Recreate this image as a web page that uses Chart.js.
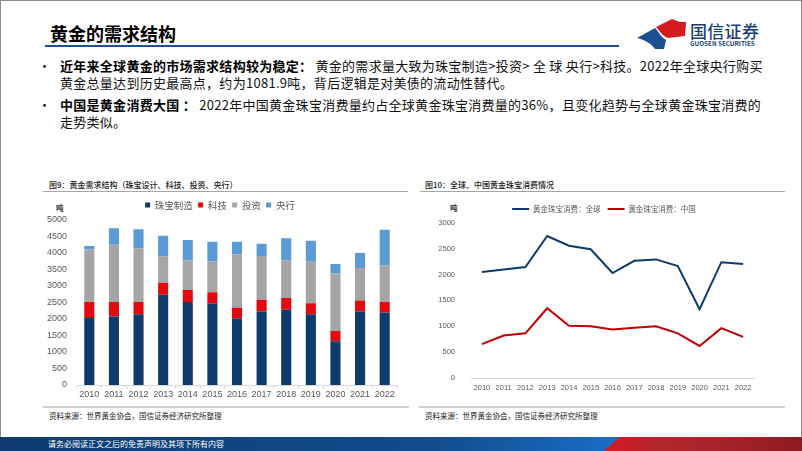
<!DOCTYPE html>
<html><head><meta charset="utf-8">
<script src="https://cdn.jsdelivr.net/npm/chart.js@4.4.1/dist/chart.umd.min.js"></script>
<style>
html,body{margin:0;padding:0;background:#fff;}
body{width:802px;height:451px;position:relative;overflow:hidden;font-family:"Noto Sans CJK SC","Noto Sans",sans-serif;color:#111;}
.frame{position:absolute;left:0;top:0;width:800px;height:449px;border:1px solid #8c8c8c;}
.abs{position:absolute;white-space:nowrap;}
.title{left:50px;top:21px;font-size:18px;font-weight:700;line-height:24px;color:#000;}
.tline{left:45px;top:45px;width:574px;height:2px;background:#1d4f91;}
.txt{font-size:13px;line-height:17px;color:#111;letter-spacing:0.28px;}
.txt b{font-weight:700;color:#000;}
.dot{font-size:13px;line-height:17px;}
.cap{font-size:8px;line-height:10px;font-weight:500;color:#222;}
.hl{height:1px;background:#a6a6a6;}
.bl{height:2px;background:#cfcfcf;}
.src{font-size:7.5px;line-height:10px;color:#222;}
.unit{font-size:7.5px;font-weight:700;color:#333;line-height:10px;}
canvas{position:absolute;}
.footer{left:0;top:437px;width:802px;height:14px;background:linear-gradient(90deg,#0d3b70 0%,#124d8f 55%,#1a6cc4 76%,#1a6cc4 78%);}
.red{left:592px;top:437px;width:210px;height:14px;background:linear-gradient(90deg,#e3141c 0%,#b3262d 30%,#a5242a 60%,#8e1c21 100%);clip-path:polygon(28px 0,210px 0,210px 14px,12px 14px);}
.ftxt{left:48px;top:438px;font-size:8px;line-height:12px;color:#fff;}
</style></head>
<body>
<div class="frame"></div>
<div class="abs title">黄金的需求结构</div>
<div class="abs tline"></div>
<svg class="abs" style="left:630px;top:14px" width="62" height="40" viewBox="630 14 62 40">
  <path d="M656,27 L672,19 L680,22 L686,22 L685,36 L668,38 C662,36 660,31 656,27 Z" fill="#d71920"/>
  <path d="M637,38 L655,28 C659,32 661,37 666,40 L664,49 L655,49 C652,44 645,40 637,38 Z" fill="#1d4f91"/>
</svg>
<div class="abs" style="left:690px;top:20px;font-size:17px;line-height:22px;color:#1c3f74;font-weight:500;letter-spacing:0.3px;">国信证券</div>
<div class="abs" style="left:690px;top:40px;font-size:6.3px;line-height:8px;color:#1c3f74;font-weight:700;">GUOSEN SECURITIES</div>

<div class="abs dot" style="left:38px;top:57px;">•</div>
<div class="abs txt" style="left:60px;top:57px;"><b>近年来全球黄金的市场需求结构较为稳定：</b> 黄金的需求量大致为珠宝制造&gt;投资&gt; 全 球 央行&gt;科技。2022年全球央行购买</div>
<div class="abs txt" style="left:60px;top:74px;">黄金总量达到历史最高点，约为1081.9吨，背后逻辑是对美债的流动性替代。</div>
<div class="abs dot" style="left:38px;top:96px;">•</div>
<div class="abs txt" style="left:60px;top:96px;"><b>中国是黄金消费大国 ：</b> 2022年中国黄金珠宝消费量约占全球黄金珠宝消费量的36%，且变化趋势与全球黄金珠宝消费的</div>
<div class="abs txt" style="left:60px;top:113px;">走势类似。</div>

<div class="abs cap" style="left:49px;top:180px;">图9：黄金需求结构（珠宝设计、科技、投资、央行）</div>
<div class="abs hl" style="left:43px;top:191px;width:365px;"></div>
<div class="abs cap" style="left:425px;top:180px;">图10：全球、中国黄金珠宝消费情况</div>
<div class="abs hl" style="left:420px;top:191px;width:365px;"></div>

<div class="abs unit" style="left:56px;top:203px;">吨</div>
<div class="abs unit" style="left:450px;top:203px;">吨</div>

<canvas id="c1" width="365" height="205" style="left:43px;top:195px;width:365px;height:205px;"></canvas>
<canvas id="c2" width="368" height="196" style="left:420px;top:198px;width:368px;height:196px;"></canvas>

<div class="abs bl" style="left:43px;top:406px;width:366px;"></div>
<div class="abs bl" style="left:419px;top:406px;width:366px;"></div>
<div class="abs src" style="left:49px;top:411px;">资料来源：世界黄金协会，国信证券经济研究所整理</div>
<div class="abs src" style="left:425px;top:411px;">资料来源：世界黄金协会，国信证券经济研究所整理</div>

<div class="abs footer"></div>
<div class="abs red"></div>
<div class="abs ftxt">请务必阅读正文之后的免责声明及其项下所有内容</div>

<script>
// ---- data ----
const years = ['2010','2011','2012','2013','2014','2015','2016','2017','2018','2019','2020','2021','2022'];
const jewelry     = [2030,2070,2143,2733,2515,2464,2018,2225,2277,2143,1325,2225,2194];
const technology  = [485, 445, 372, 362, 363, 341, 321, 352, 352, 331, 310, 332, 321];
const investment  = [1585,1730,1615,797, 890, 942, 1615,1325,1149,1252,1750,983, 1097];
const centralBank = [105, 497, 580, 621, 621, 590, 383, 373, 662, 642, 279, 455, 1087];
const seriesNames1 = ['珠宝制造','科技','投资','央行'];

const globalJewelry = [2050,2097,2144,2744,2555,2488,2029,2265,2292,2164,1328,2238,2205];
const chinaJewelry  = [654, 822, 863, 1348,1011,998, 937, 971, 998, 863, 620, 964, 796];
const seriesNames2 = ['黄金珠宝消费：全球','黄金珠宝消费：中国'];

const yTicks1 = [0,500,1000,1500,2000,2500,3000,3500,4000,4500,5000];
const yTicks2 = [0,500,1000,1500,2000,2500,3000];

Chart.defaults.font.family = '"Noto Sans CJK SC","Liberation Sans",sans-serif';
Chart.defaults.color = '#595959';
Chart.defaults.animation = false;

const tickFont = {family:'"Liberation Sans","Noto Sans",sans-serif', size:9};

new Chart(document.getElementById('c1'), {
  type:'bar',
  data:{
    labels: years,
    datasets:[
      {label:seriesNames1[0], data:jewelry, backgroundColor:'#0c3b6c'},
      {label:seriesNames1[1], data:technology, backgroundColor:'#e00a0f'},
      {label:seriesNames1[2], data:investment, backgroundColor:'#a5a5a5'},
      {label:seriesNames1[3], data:centralBank, backgroundColor:'#5b9bd5'}
    ]
  },
  options:{
    responsive:false,
    layout:{padding:{left:0,right:11,top:0,bottom:0}},
    datasets:{bar:{categoryPercentage:1, barPercentage:0.41}},
    plugins:{
      legend:{position:'top', labels:{boxWidth:5, boxHeight:5, padding:5.25, font:{size:9.5}, color:'#595959'}},
      tooltip:{enabled:false}
    },
    scales:{
      x:{stacked:true,
         grid:{display:true, drawOnChartArea:false, drawTicks:true, tickLength:4, color:'#d9d9d9', offset:true},
         border:{display:true, color:'#d9d9d9'},
         ticks:{font:tickFont, color:'#595959', padding:0, maxRotation:0},
         afterFit:s=>{s.height=15;}},
      y:{stacked:true, min:0, max:5000,
         afterBuildTicks:s=>{s.ticks = yTicks1.map(v=>({value:v}));},
         grid:{display:false},
         border:{display:false},
         ticks:{font:tickFont, color:'#595959', padding:2, callback:v=>String(v)},
         afterFit:s=>{s.width=34;}}
    }
  }
});

const tickFont2 = {family:'"Liberation Sans","Noto Sans",sans-serif', size:7.5};
new Chart(document.getElementById('c2'), {
  type:'line',
  data:{
    labels: years,
    datasets:[
      {label:seriesNames2[0], data:globalJewelry, borderColor:'#0c3b6c', backgroundColor:'#0c3b6c', borderWidth:2, pointRadius:0, tension:0},
      {label:seriesNames2[1], data:chinaJewelry, borderColor:'#c00000', backgroundColor:'#c00000', borderWidth:2, pointRadius:0, tension:0}
    ]
  },
  options:{
    responsive:false,
    layout:{padding:{left:0,right:0,top:0,bottom:0}},
    plugins:{
      legend:{position:'top', labels:{usePointStyle:true, pointStyle:'line', pointStyleWidth:17, boxHeight:7.5, padding:7.25, font:{size:7.5}, color:'#595959'}},
      tooltip:{enabled:false}
    },
    scales:{
      x:{offset:true,
         grid:{display:false, drawTicks:false},
         border:{display:true, color:'#d9d9d9'},
         ticks:{font:tickFont2, color:'#595959', padding:5, maxRotation:0},
         afterFit:s=>{s.height=16;}},
      y:{min:0, max:3000,
         afterBuildTicks:s=>{s.ticks = yTicks2.map(v=>({value:v}));},
         grid:{display:false},
         border:{display:false},
         ticks:{font:tickFont2, color:'#595959', padding:8, callback:v=>String(v)},
         afterFit:s=>{s.width=51;}},
      yPad:{position:'right', min:0, max:3000,
         grid:{display:false}, border:{display:false},
         ticks:{display:false},
         afterFit:s=>{s.width=34;}}
    }
  }
});
</script>
</body></html>
